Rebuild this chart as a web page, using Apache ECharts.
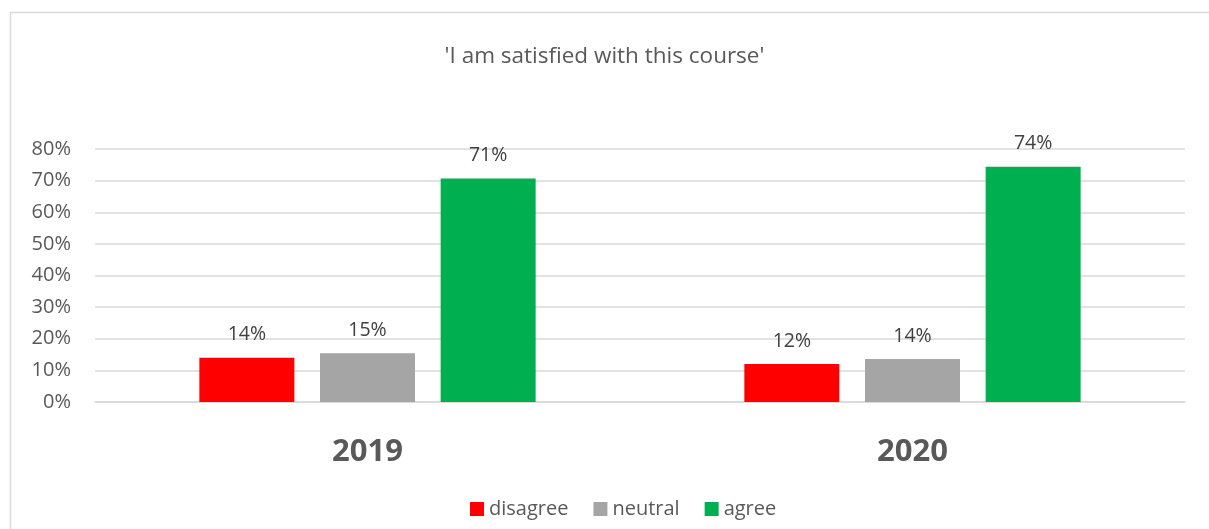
<!DOCTYPE html>
<html>
<head>
<meta charset="utf-8">
<script src="https://cdn.jsdelivr.net/npm/echarts@6/dist/echarts.min.js"></script>
<style>
  html, body { margin: 0; padding: 0; background: #fff; }
  #chart { width: 1209px; height: 529px; }
</style>
</head>
<body>
<div id="chart"></div>
<script>
// survey answers per year, in percent
var years = ['2019', '2020'];
var disagree = [14.0, 12.0];
var neutral = [15.4, 13.6];
var agree = [70.7, 74.4];
var labelDisagree = ['14%', '12%'];
var labelNeutral = ['15%', '14%'];
var labelAgree = ['71%', '74%'];

var FONT = 'Open Sans';
var TXT = '#595959';

function barSeries(name, values, labels, color) {
  return {
    name: name,
    type: 'bar',
    data: values,
    barWidth: 95,
    barGap: '27%',
    itemStyle: { color: color },
    label: {
      show: true,
      position: 'top',
      distance: 13,
      color: '#404040',
      fontFamily: FONT,
      fontSize: 19.5,
      formatter: function (p) { return labels[p.dataIndex]; }
    }
  };
}

var chart = echarts.init(document.getElementById('chart'));
chart.setOption({
  animation: false,
  textStyle: { fontFamily: FONT },
  title: {
    text: "'I am satisfied with this course'",
    left: 'center',
    top: 40,
    textStyle: { color: TXT, fontFamily: FONT, fontSize: 22.5, fontWeight: 'normal' }
  },
  graphic: [{
    type: 'rect',
    shape: { x: 10.5, y: 12.5, width: 1300, height: 600 },
    style: { fill: 'none', stroke: '#d9d9d9', lineWidth: 1.5 },
    silent: true
  }],
  legend: {
    top: 494,
    left: 465,
    itemWidth: 14,
    itemHeight: 14,
    itemGap: 25,
    icon: 'rect',
    textStyle: { color: TXT, fontFamily: FONT, fontSize: 20 },
    data: ['disagree', 'neutral', 'agree']
  },
  grid: { left: 95, right: 24, top: 149, bottom: 127 },
  xAxis: {
    type: 'category',
    data: years,
    axisLine: { lineStyle: { color: '#d9d9d9', width: 1.5 } },
    axisTick: { show: false },
    axisLabel: { color: TXT, fontFamily: FONT, fontSize: 31, fontWeight: 'bold', margin: 35 }
  },
  yAxis: {
    type: 'value',
    min: 0,
    max: 80,
    interval: 10,
    axisLine: { show: false },
    axisTick: { show: false },
    splitLine: { lineStyle: { color: '#d9d9d9', width: 1.5 } },
    axisLabel: {
      color: TXT,
      fontFamily: FONT,
      fontSize: 20,
      margin: 24,
      formatter: function (v) { return v + '%'; }
    }
  },
  series: [
    barSeries('disagree', disagree, labelDisagree, '#ff0000'),
    barSeries('neutral', neutral, labelNeutral, '#a5a5a5'),
    barSeries('agree', agree, labelAgree, '#00b050')
  ]
});
</script>
</body>
</html>
